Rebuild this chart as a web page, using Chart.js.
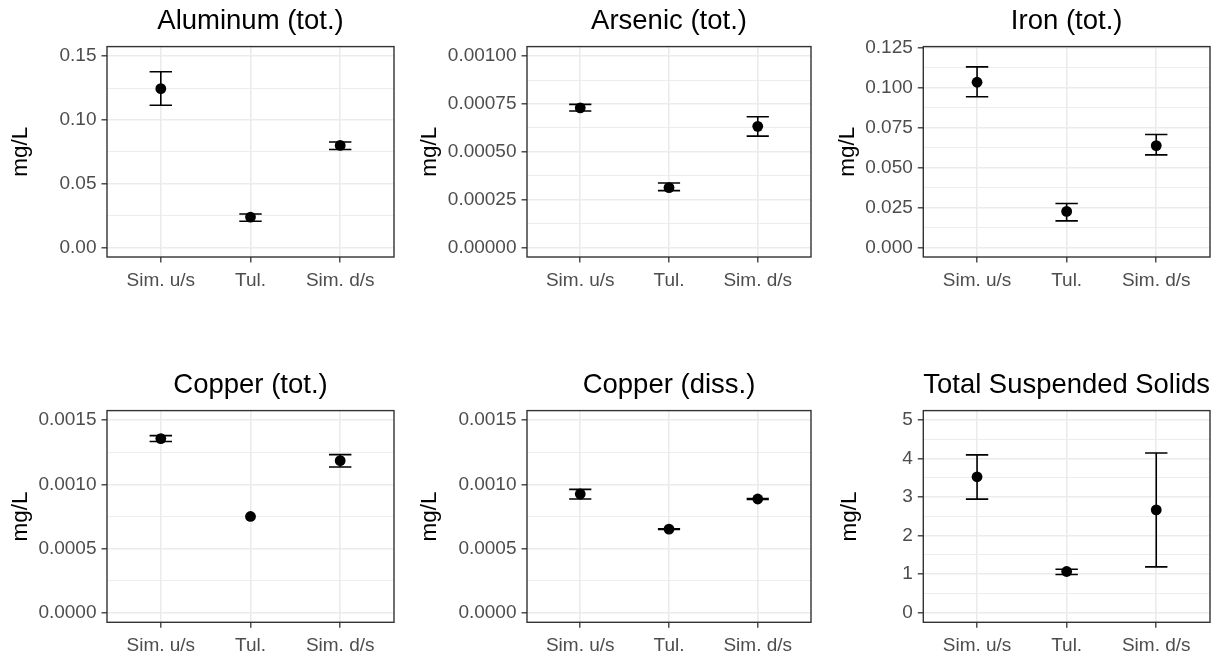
<!DOCTYPE html>
<html>
<head>
<meta charset="utf-8">
<script src="https://cdn.jsdelivr.net/npm/chart.js@4.4.1/dist/chart.umd.min.js"></script>
<style>
  html, body { margin: 0; padding: 0; background: #fff; }
  #wrap { position: relative; width: 1228px; height: 658px; overflow: hidden; }
  canvas { position: absolute; }
</style>
</head>
<body>
<div id="wrap"></div>
<script>
// sites along the x axis
const categories = ['Sim. u/s', 'Tul.', 'Sim. d/s']
const titles = ['Aluminum (tot.)', 'Arsenic (tot.)', 'Iron (tot.)', 'Copper (tot.)', 'Copper (diss.)', 'Total Suspended Solids']
const yTitle = 'mg/L'

// mean, lower and upper error bar values per site (mg/L)
const aluminumMean = [0.1245, 0.0238, 0.0800]
const aluminumLow = [0.1115, 0.0205, 0.0768]
const aluminumHigh = [0.1378, 0.0262, 0.0827]
const aluminumTicks = ['0.00', '0.05', '0.10', '0.15']

const arsenicMean = [0.000730, 0.000313, 0.000633]
const arsenicLow = [0.000713, 0.000297, 0.000582]
const arsenicHigh = [0.000748, 0.000337, 0.000683]
const arsenicTicks = ['0.00000', '0.00025', '0.00050', '0.00075', '0.00100']

const ironMean = [0.1035, 0.0227, 0.0639]
const ironLow = [0.0944, 0.0168, 0.0581]
const ironHigh = [0.1131, 0.0277, 0.0708]
const ironTicks = ['0.000', '0.025', '0.050', '0.075', '0.100', '0.125']

const copperTotMean = [0.001357, 0.000750, 0.001185]
const copperTotLow = [0.001334, null, 0.001136]
const copperTotHigh = [0.001380, null, 0.001232]
const copperTotTicks = ['0.0000', '0.0005', '0.0010', '0.0015']

const copperDissMean = [0.000925, 0.000651, 0.000886]
const copperDissLow = [0.000886, 0.000648, 0.000883]
const copperDissHigh = [0.000961, 0.000654, 0.000889]
const copperDissTicks = ['0.0000', '0.0005', '0.0010', '0.0015']

const tssMean = [3.53, 1.07, 2.67]
const tssLow = [2.95, 0.99, 1.19]
const tssHigh = [4.10, 1.13, 4.15]
const tssTicks = ['0', '1', '2', '3', '4', '5']

const FONT = '"Liberation Sans", Arial, Helvetica, sans-serif'
const CAP_HALF = 0.125

// canvas boxes and paddings, one per facet
const panels = [
  { title: titles[0], mean: aluminumMean, low: aluminumLow, high: aluminumHigh, ticks: aluminumTicks,
    min: -0.0075, max: 0.1575, box: [0, 0, 409, 329], pad: { left: 7.5, right: 15, top: 0, bottom: 38 }, yWidth: 99.5 },
  { title: titles[1], mean: arsenicMean, low: arsenicLow, high: arsenicHigh, ticks: arsenicTicks,
    min: -0.00005, max: 0.00105, box: [409, 0, 409, 329], pad: { left: 7.5, right: 7, top: 0, bottom: 38 }, yWidth: 110.5 },
  { title: titles[2], mean: ironMean, low: ironLow, high: ironHigh, ticks: ironTicks,
    min: -0.0058, max: 0.1258, box: [818, 0, 410, 329], pad: { left: 16.5, right: 18, top: 0, bottom: 38 }, yWidth: 88.8 },
  { title: titles[3], mean: copperTotMean, low: copperTotLow, high: copperTotHigh, ticks: copperTotTicks,
    min: -0.000075, max: 0.001575, box: [0, 329, 409, 329], pad: { left: 7.5, right: 15, top: 35, bottom: 1.7 }, yWidth: 99.5 },
  { title: titles[4], mean: copperDissMean, low: copperDissLow, high: copperDissHigh, ticks: copperDissTicks,
    min: -0.000075, max: 0.001575, box: [409, 329, 409, 329], pad: { left: 7.5, right: 7, top: 35, bottom: 1.7 }, yWidth: 110.5 },
  { title: titles[5], mean: tssMean, low: tssLow, high: tssHigh, ticks: tssTicks,
    min: -0.25, max: 5.25, box: [818, 329, 410, 329], pad: { left: 18.5, right: 18, top: 35, bottom: 1.7 }, yWidth: 86.8 }
]

// ggplot-style panel border on top of everything
const panelBorder = {
  id: 'panelBorder',
  afterDraw(chart) {
    const { ctx, chartArea: a } = chart
    ctx.save()
    ctx.strokeStyle = '#333333'
    ctx.lineWidth = 1.4
    ctx.strokeRect(a.left, a.top, a.right - a.left, a.bottom - a.top)
    ctx.restore()
  }
}

const wrap = document.getElementById('wrap')

panels.forEach(p => {
  const canvas = document.createElement('canvas')
  canvas.width = p.box[2]
  canvas.height = p.box[3]
  canvas.style.left = p.box[0] + 'px'
  canvas.style.top = p.box[1] + 'px'
  wrap.appendChild(canvas)

  const majors = p.ticks.map(Number)
  const step = majors[1] - majors[0]
  const isMajor = v => majors.some(m => Math.abs(m - v) < step * 1e-3)
  const yValues = []
  majors.forEach((m, i) => {
    yValues.push(m)
    if (i < majors.length - 1) yValues.push(m + step / 2)
  })

  // one broken line for all error bars: top cap, stem, bottom cap
  const errData = []
  categories.forEach((c, i) => {
    if (p.low[i] == null) return
    const x = i + 1
    errData.push(
      { x: x - CAP_HALF, y: p.high[i] }, { x: x + CAP_HALF, y: p.high[i] }, { x: NaN, y: null },
      { x: x, y: p.high[i] }, { x: x, y: p.low[i] }, { x: NaN, y: null },
      { x: x - CAP_HALF, y: p.low[i] }, { x: x + CAP_HALF, y: p.low[i] }, { x: NaN, y: null }
    )
  })

  new Chart(canvas, {
    type: 'scatter',
    data: {
      datasets: [
        {
          data: errData,
          showLine: true,
          spanGaps: false,
          borderColor: '#000000',
          borderWidth: 1.6,
          pointRadius: 0,
          order: 2
        },
        {
          data: p.mean.map((v, i) => ({ x: i + 1, y: v })),
          backgroundColor: '#000000',
          borderWidth: 0,
          pointRadius: 5.4,
          order: 1
        }
      ]
    },
    options: {
      responsive: false,
      animation: false,
      events: [],
      layout: { padding: p.pad, autoPadding: false },
      plugins: {
        legend: { display: false },
        tooltip: { enabled: false },
        title: {
          display: true,
          text: p.title,
          fullSize: false,
          color: '#000000',
          font: { family: FONT, size: 27.5, weight: 'normal' },
          padding: { top: 5.3, bottom: 8.3 }
        }
      },
      scales: {
        x: {
          type: 'linear',
          min: 0.4,
          max: 3.6,
          afterBuildTicks: s => { s.ticks = categories.map((c, i) => ({ value: i + 1 })) },
          afterFit: s => { s.height = 34 },
          border: { display: false },
          grid: { color: '#EBEBEB', lineWidth: 1.6, tickColor: '#333333', tickLength: 5.5, tickWidth: 1.3 },
          ticks: {
            autoSkip: false,
            maxRotation: 0,
            padding: 6.5,
            color: '#4D4D4D',
            font: { family: FONT, size: 19 },
            callback: v => categories[Math.round(v) - 1]
          }
        },
        y: {
          type: 'linear',
          min: p.min,
          max: p.max,
          afterBuildTicks: s => { s.ticks = yValues.map(v => ({ value: v })) },
          afterFit: s => { s.width = p.yWidth },
          border: { display: false },
          grid: {
            color: '#EBEBEB',
            lineWidth: c => isMajor(c.tick.value) ? 1.6 : 0.9,
            tickColor: c => isMajor(c.tick.value) ? '#333333' : 'rgba(0,0,0,0)',
            tickLength: 5.5,
            tickWidth: 1.3
          },
          ticks: {
            autoSkip: false,
            padding: 5,
            color: '#4D4D4D',
            font: { family: FONT, size: 19 },
            callback: v => {
              const i = majors.findIndex(m => Math.abs(m - v) < step * 1e-3)
              return i >= 0 ? p.ticks[i] : ''
            }
          },
          title: {
            display: true,
            text: yTitle,
            color: '#000000',
            font: { family: FONT, size: 22.5 },
            padding: { top: 0, bottom: 0 }
          }
        }
      }
    },
    plugins: [panelBorder]
  })
})
</script>
</body>
</html>
